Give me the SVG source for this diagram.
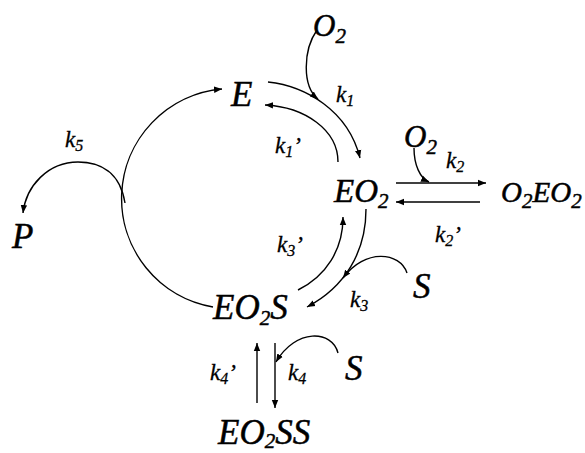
<svg xmlns="http://www.w3.org/2000/svg" width="585" height="453" viewBox="0 0 585 453">
<defs>
<marker id="ah" viewBox="0 0 10 10" refX="10" refY="5" markerWidth="8" markerHeight="8" markerUnits="userSpaceOnUse" orient="auto">
<path d="M0,1 L10,5 L0,9 z" fill="#000"/>
</marker>
<style>
text{font-family:"Liberation Serif","Times New Roman",serif;font-style:italic;fill:#000;stroke:#000;stroke-width:0.5}
.big{font-size:35px}
.mid{font-size:33px}
.o2{font-size:31px}
.oeo{font-size:29px}
.k{font-size:23px;stroke-width:0.3}
.sub{font-size:21px}
.ks{font-size:16px}
#connectors path{fill:none;stroke:#000;stroke-width:1.4}
.arr{marker-end:url(#ah)}
</style>
</defs>
<rect width="585" height="453" fill="#fff"/>
<g id="connectors">
<path class="arr" d="M213,307 A110,110 0 0 1 222,89"/>
<path class="arr" d="M125,203 C120,172 100,162 78,162 C48,162 26,186 23,213"/>
<path class="arr" d="M268,82 C305,86 348,110 360,158"/>
<path class="arr" d="M317,30 C303,50 302,86 318,99"/>
<path class="arr" d="M338,162 C338,130 305,107 265,105"/>
<path class="arr" d="M396,183 L486,183"/>
<path class="arr" d="M480,202 L396,202"/>
<path class="arr" d="M414,148 C414,165 420,178 429,182"/>
<path class="arr" d="M366,209 C366,252 345,287 307,307"/>
<path class="arr" d="M407,273 C400,252 365,248 343,278"/>
<path class="arr" d="M298,290 C326,276 343,250 343,217"/>
<path class="arr" d="M275,343 L275,408"/>
<path class="arr" d="M257,403 L257,343"/>
<path class="arr" d="M338,353 C332,330 296,328 276,362"/>
</g>
<g id="node-O2-top"><text class="o2" x="313" y="36">O<tspan class="sub" dy="7">2</tspan></text></g>
<g id="node-E"><text class="big" x="231" y="106">E</text></g>
<g id="node-EO2"><text class="mid" x="334" y="202">EO<tspan class="sub" dy="6">2</tspan></text></g>
<g id="node-O2-mid"><text class="o2" x="404" y="147">O<tspan class="sub" dy="7">2</tspan></text></g>
<g id="node-O2EO2"><text class="oeo" x="501" y="202">O<tspan class="sub" dy="6">2</tspan><tspan dy="-6">EO</tspan><tspan class="sub" dy="6">2</tspan></text></g>
<g id="node-S3"><text class="big" x="413" y="298">S</text></g>
<g id="node-EO2S"><text class="big" x="213" y="319">EO<tspan class="sub" dy="6">2</tspan><tspan dy="-6">S</tspan></text></g>
<g id="node-S4"><text class="big" x="345" y="380">S</text></g>
<g id="node-EO2SS"><text class="big" x="218" y="444">EO<tspan class="sub" dy="4">2</tspan><tspan dy="-4">SS</tspan></text></g>
<g id="node-P"><text class="big" x="12" y="248">P</text></g>
<g id="labels">
<text class="k" x="336" y="102">k<tspan class="ks" dy="4">1</tspan></text>
<text class="k" x="275" y="153">k<tspan class="ks" dy="4">1</tspan><tspan dy="-4">’</tspan></text>
<text class="k" x="446" y="168">k<tspan class="ks" dy="4">2</tspan></text>
<text class="k" x="435" y="242">k<tspan class="ks" dy="4">2</tspan><tspan dy="-4">’</tspan></text>
<text class="k" x="277" y="252">k<tspan class="ks" dy="4">3</tspan><tspan dy="-4">’</tspan></text>
<text class="k" x="350" y="307">k<tspan class="ks" dy="4">3</tspan></text>
<text class="k" x="210" y="380">k<tspan class="ks" dy="4">4</tspan><tspan dy="-4">’</tspan></text>
<text class="k" x="288" y="380">k<tspan class="ks" dy="4">4</tspan></text>
<text class="k" x="65" y="147">k<tspan class="ks" dy="4">5</tspan></text>
</g>
</svg>
